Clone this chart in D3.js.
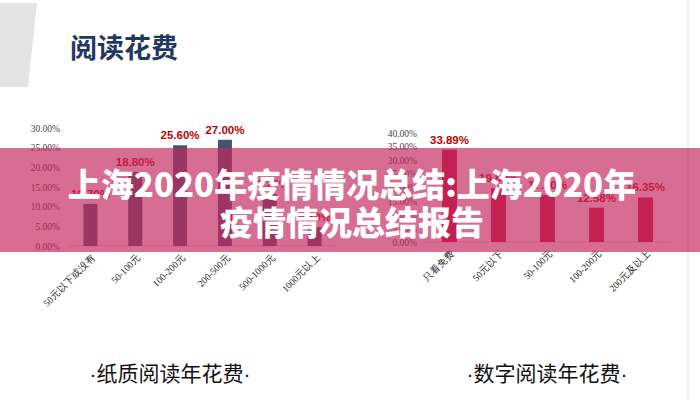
<!DOCTYPE html><html><head><meta charset="utf-8"><script src="https://cdn.jsdelivr.net/npm/d3@7"></script>
<style>body{margin:0;background:#fff}svg{display:block;font-family:"Noto Sans CJK SC","Noto Sans",sans-serif}</style></head><body><svg width="700" height="400"></svg><script>
const paperCats=["50元以下或没有","50-100元","100-200元","200-500元","500-1000元","1000元以上"];
const paperVals=[10.70,18.80,25.60,27.00,13.20,4.80];
const paperTicks=[0,5,10,15,20,25,30];
const digiCats=["只看免费","50元以下","50-100元","100-200元","200元及以上"];
const digiVals=[33.89,19.80,17.30,12.58,16.35];
const digiTicks=[0,5,10,15,20,25,30,35,40];
const svg=d3.select("svg");
svg.append("path").attr("d","M0,3L37,3L28,87L0,87Z").attr("fill","#e3e3e3");
svg.append("line").attr("x1",688).attr("x2",688).attr("y1",0).attr("y2",400).attr("stroke","#ddd");
svg.append("text").attr("x",70).attr("y",58).attr("font-size",27).attr("font-weight",700).attr("fill","#1f3864").text("阅读花费");
function chart(cats,vals,ticks,x0,x1,y0,y1,max,bw,color,labelX){
 const x=d3.scaleBand().domain(cats).range([x0,x1]);
 const y=d3.scaleLinear().domain([0,max]).range([y0,y1]);
 const g=svg.append("g");
 g.append("line").attr("x1",x0).attr("x2",x1).attr("y1",y0).attr("y2",y0).attr("stroke","#d9d9d9");
 g.selectAll(".t").data(ticks).join("text").attr("x",labelX).attr("y",d=>y(d)+3.5).attr("text-anchor","end").attr("font-size",9.5).attr("fill","#444").attr("font-family","Liberation Serif").text(d=>d.toFixed(2)+"%");
 g.selectAll("rect").data(vals).join("rect").attr("x",(d,i)=>x(cats[i])+x.bandwidth()/2-bw/2).attr("width",bw).attr("y",d=>y(d)).attr("height",d=>y0-y(d)).attr("fill",color);
 g.selectAll(".v").data(vals).join("text").attr("x",(d,i)=>x(cats[i])+x.bandwidth()/2).attr("y",d=>y(d)-6).attr("text-anchor","middle").attr("font-size",11.5).attr("font-weight",700).attr("fill","#c00000").attr("font-family","Liberation Sans").text(d=>d.toFixed(2)+"%");
 g.selectAll(".c").data(cats).join("text").attr("transform",d=>`translate(${x(d)+x.bandwidth()/2+6},${y0+12}) rotate(-45)`).attr("text-anchor","end").attr("font-size",9.5).attr("fill","#222").attr("font-family","Liberation Serif").text(d=>d);
}
chart(paperCats,paperVals,paperTicks,68,337,246,128,30,14,"#44546a",60);
chart(digiCats,digiVals,digiTicks,425,670,242,133,40,15,"#c0143c",417);
svg.append("rect").attr("x",0).attr("y",148).attr("width",700).attr("height",104).attr("fill","rgba(196,40,95,0.68)");
svg.append("text").attr("x",352).attr("y",197).attr("text-anchor","middle").attr("font-size",33).attr("font-weight",900).attr("fill","#fff").text("上海2020年疫情情况总结:上海2020年");
svg.append("text").attr("x",352).attr("y",235).attr("text-anchor","middle").attr("font-size",33).attr("font-weight",900).attr("fill","#fff").text("疫情情况总结报告");
function foot(cx,t){
 const tx=svg.append("text").attr("x",cx).attr("y",381).attr("text-anchor","middle").attr("font-size",21).attr("fill","#111");
 tx.append("tspan").attr("font-family","Liberation Sans").text("·");
 tx.append("tspan").text(t);
 tx.append("tspan").attr("font-family","Liberation Sans").text("·");
}
foot(170,"纸质阅读年花费");
foot(547,"数字阅读年花费");
</script></body></html>
